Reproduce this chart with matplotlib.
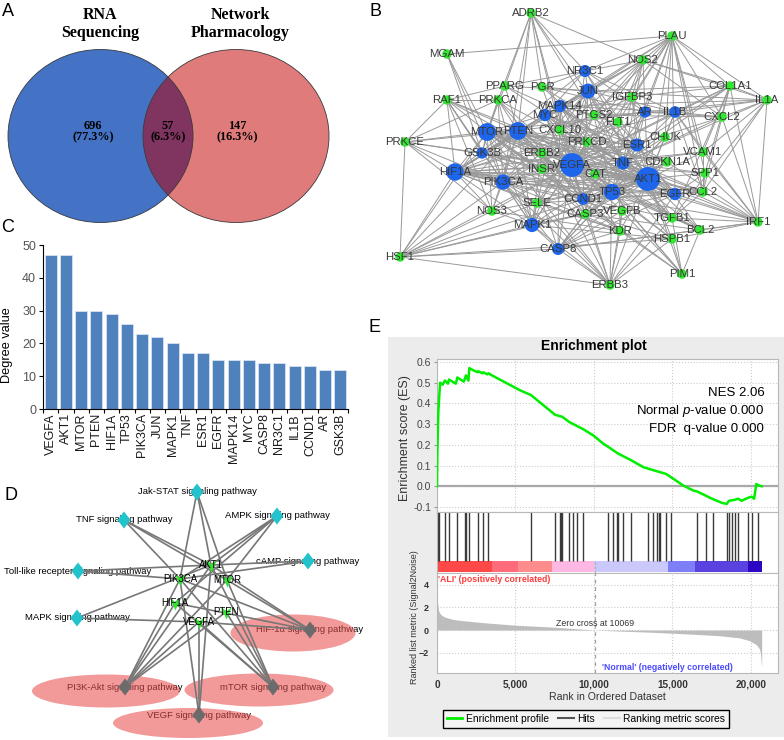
import numpy as np
import matplotlib
matplotlib.use("Agg")
import matplotlib.pyplot as plt
from matplotlib.patches import Ellipse, Rectangle
from matplotlib.collections import LineCollection
from matplotlib.lines import Line2D

plt.rcParams["font.family"] = ["Liberation Sans", "DejaVu Sans"]
plt.rcParams["mathtext.fontset"] = "custom"
plt.rcParams["mathtext.it"] = "Liberation Sans:italic"
plt.rcParams["mathtext.rm"] = "Liberation Sans"

# ---------------- A: Venn ----------------
VENN_TITLES = [("RNA", "Sequencing"), ("Network", "Pharmacology")]
VENN_COUNTS = [696, 57, 147]
VENN_PCT = [77.3, 6.3, 16.3]

# ---------------- C: hub gene degree ----------------
HUB_GENES = ["VEGFA", "AKT1", "MTOR", "PTEN", "HIF1A", "TP53", "PIK3CA", "JUN",
             "MAPK1", "TNF", "ESR1", "EGFR", "MAPK14", "MYC", "CASP8", "NR3C1",
             "IL1B", "CCND1", "AR", "GSK3B"]
HUB_DEGREE = [47, 47, 30, 30, 29, 26, 23, 22, 20, 17, 17, 15, 15, 15, 14, 14, 13, 13, 12, 12]

# ---------------- B: PPI network ----------------
OTHER_GENES = ["ADRB2", "PLAU", "MGAM", "NOS2", "COL1A1", "PPARG", "PGR", "RAF1",
               "PRKCA", "IGFBP3", "IL1A", "PTGS2", "FLT1", "CXCL2", "CXCL10", "CHUK",
               "PRKCE", "PRKCD", "ERBB2", "VCAM1", "CDKN1A", "INSR", "CAT", "SPP1",
               "CCL2", "SELE", "NOS3", "CASP3", "VEGFB", "TGFB1", "IRF1", "KDR",
               "BCL2", "HSPB1", "HSF1", "PIM1", "ERBB3"]
EDGES_B = {
    "VEGFA": "AKT1 MTOR PTEN HIF1A TP53 PIK3CA JUN MAPK1 TNF ESR1 EGFR MAPK14 MYC CASP8 NR3C1 "
             "IL1B CCND1 AR GSK3B KDR VEGFB FLT1 NOS3 NOS2 PTGS2 CXCL10 CCL2 SPP1 VCAM1 SELE "
             "TGFB1 BCL2 ERBB2 INSR IGFBP3 PLAU COL1A1 CXCL2 HSPB1 PRKCA PRKCD CASP3 CAT HSF1 "
             "ADRB2 IRF1 ERBB3",
    "AKT1": "MTOR PTEN HIF1A TP53 PIK3CA JUN MAPK1 TNF ESR1 EGFR MAPK14 MYC CASP8 NR3C1 IL1B "
            "CCND1 AR GSK3B RAF1 PRKCA PRKCE PRKCD CHUK CDKN1A BCL2 CASP3 NOS3 INSR ERBB2 ERBB3 "
            "IGFBP3 PPARG PGR HSPB1 HSF1 PIM1 TGFB1 CAT SELE KDR ADRB2 IRF1 CCL2 VCAM1 SPP1 PLAU",
    "MTOR": "PTEN HIF1A TP53 PIK3CA MAPK1 EGFR MYC CCND1 GSK3B RAF1 PRKCA PRKCE PRKCD INSR ERBB2 "
            "ERBB3 CDKN1A BCL2 CASP3 HSF1 PIM1 PPARG KDR NOS3 TNF ESR1 AR MGAM",
    "PTEN": "HIF1A TP53 PIK3CA MAPK1 EGFR MYC CCND1 GSK3B CASP3 CASP8 BCL2 CDKN1A ERBB2 INSR "
            "PRKCA PRKCE RAF1 JUN TNF ESR1 AR HSF1 ADRB2 PPARG NOS3 KDR",
    "HIF1A": "TP53 PIK3CA JUN MAPK1 TNF EGFR MYC IL1B NOS2 NOS3 PTGS2 KDR FLT1 VEGFB CAT SELE "
             "CCL2 HSF1 PRKCE RAF1 TGFB1 ESR1 NR3C1 IRF1 PLAU",
    "TP53": "PIK3CA JUN MAPK1 MYC CASP8 CCND1 CDKN1A BCL2 CASP3 ESR1 EGFR MAPK14 GSK3B HSPB1 "
            "PIM1 ERBB3 IGFBP3 CHUK AR",
    "PIK3CA": "JUN MAPK1 EGFR ERBB2 ERBB3 INSR KDR FLT1 RAF1 PRKCA PRKCE NOS3 SELE HSF1 CASP8 MGAM ADRB2",
    "JUN": "MAPK1 TNF MAPK14 MYC CCND1 ESR1 NR3C1 IL1B PTGS2 CXCL10 NOS2 COL1A1 IL1A PLAU PGR PPARG",
    "MAPK1": "TNF MAPK14 EGFR CASP8 RAF1 PRKCA PRKCD ERBB2 SELE NOS3 CASP3 HSPB1 ERBB3 HSF1",
    "TNF": "IL1B CASP8 CCL2 VCAM1 SELE IL1A CXCL2 CXCL10 CHUK NOS2 PTGS2 TGFB1 IRF1 PLAU SPP1 COL1A1",
    "ESR1": "EGFR MYC CCND1 AR PGR NR3C1 IGFBP3 ERBB2 PPARG COL1A1 CDKN1A BCL2",
    "EGFR": "ERBB2 ERBB3 MAPK14 CCND1 CASP8 PRKCD IRF1 SPP1 CCL2 PLAU",
    "MAPK14": "IL1B CASP8 HSPB1 PTGS2 NOS2 CXCL10 CHUK TGFB1 IL1A",
    "MYC": "CCND1 CDKN1A BCL2 GSK3B CASP3 PIM1 NR3C1 IGFBP3",
    "CASP8": "CASP3 BCL2 IRF1 ERBB3 HSF1 CHUK VEGFB KDR",
    "NR3C1": "AR PGR PPARG IL1B NOS2 PLAU ADRB2",
    "IL1B": "IL1A CXCL2 CCL2 VCAM1 PTGS2 IRF1 COL1A1 CHUK",
    "CCND1": "CDKN1A GSK3B AR PGR ERBB2 PRKCA",
    "AR": "PGR IGFBP3 NOS2 PLAU CXCL2 IL1A",
    "GSK3B": "PRKCA PRKCE RAF1 INSR MGAM",
    "PLAU": "NOS2 COL1A1 IL1A CXCL2 IGFBP3 PTGS2 FLT1 CHUK VCAM1 SPP1 CCL2 MGAM",
    "ADRB2": "PPARG PGR NOS2 PTGS2 CXCL10 PRKCA",
    "IRF1": "CXCL2 CCL2 VCAM1 SPP1 COL1A1 IL1A BCL2 TGFB1 HSPB1 CDKN1A",
    "HSF1": "NOS3 SELE CASP3 HSPB1 PRKCE ERBB3",
    "ERBB3": "KDR CASP3 VEGFB HSPB1 TGFB1 SELE ERBB2",
    "PIM1": "HSPB1 BCL2 TGFB1 KDR VEGFB",
    "PRKCE": "RAF1 PRKCA NOS3",
    "RAF1": "PRKCA PPARG ERBB2 NOS3",
    "NOS2": "PTGS2 IGFBP3 COL1A1 IL1A CXCL2 CXCL10 CAT",
    "COL1A1": "IL1A CXCL2 TGFB1 SPP1 VCAM1 IGFBP3",
    "IL1A": "CXCL2 CCL2 VCAM1 TGFB1",
    "CCL2": "CXCL2 CXCL10 VCAM1 SELE SPP1 TGFB1",
    "KDR": "FLT1 VEGFB NOS3 SELE",
    "CASP3": "BCL2 HSPB1 CAT CDKN1A",
    "PTGS2": "CXCL10 CXCL2 IGFBP3 SELE",
}

# ---------------- D: gene-pathway network ----------------
PATHWAYS = ["Jak-STAT signaling pathway", "TNF signaling pathway", "AMPK signaling pathway",
            "cAMP signaling pathway", "Toll-like recepter signaling pathway",
            "MAPK signaling pathway", "HIF-1\u03b1 signaling pathway",
            "PI3K-Akt signaling pathway", "mTOR signaling pathway", "VEGF signaling pathway"]
KEY_PATHWAYS = ["HIF-1\u03b1 signaling pathway", "PI3K-Akt signaling pathway",
                "mTOR signaling pathway", "VEGF signaling pathway"]
CORE_GENES = ["AKT1", "PIK3CA", "MTOR", "HIF1A", "PTEN", "VEGFA"]
PATHWAY_GENES = {
    "Jak-STAT signaling pathway": ["PIK3CA", "AKT1", "MTOR"],
    "TNF signaling pathway": ["PIK3CA", "AKT1", "MTOR"],
    "AMPK signaling pathway": ["PIK3CA", "AKT1", "MTOR", "HIF1A"],
    "cAMP signaling pathway": ["PIK3CA", "AKT1"],
    "Toll-like recepter signaling pathway": ["PIK3CA", "AKT1"],
    "MAPK signaling pathway": ["AKT1", "VEGFA"],
    "HIF-1\u03b1 signaling pathway": ["PIK3CA", "AKT1", "MTOR", "HIF1A", "VEGFA"],
    "PI3K-Akt signaling pathway": ["PIK3CA", "AKT1", "MTOR", "PTEN", "VEGFA", "HIF1A"],
    "mTOR signaling pathway": ["PIK3CA", "AKT1", "MTOR", "PTEN", "HIF1A", "VEGFA"],
    "VEGF signaling pathway": ["PIK3CA", "AKT1", "VEGFA"],
}

# ---------------- E: GSEA ----------------
N_GENES = 20680
ZERO_CROSS = 10069
NES, P_VAL, Q_VAL = 2.06, 0.000, 0.000
ES_RANK = [0, 21, 85, 149, 200, 360, 510, 700, 764, 1200, 1295, 1700, 1783, 1847, 2000, 2059,
           2300, 2600, 2632, 2900, 2951, 3200, 3269, 3500, 5290, 5987, 7515, 7983, 8428, 8938,
           9320, 9960, 10600, 10912, 11485, 11867, 12335, 13150, 13460, 14118, 14585, 14882,
           15700, 16340, 16538, 16980, 17400, 18150, 18449, 18600, 18979, 19191, 19400, 19828,
           20041, 20200, 20340, 20466, 20680]
ES_VALUE = [0.0, 0.16, 0.36, 0.44, 0.50, 0.49, 0.51, 0.495, 0.515, 0.495, 0.525, 0.505, 0.52,
            0.535, 0.51, 0.57, 0.56, 0.55, 0.555, 0.545, 0.55, 0.54, 0.545, 0.535, 0.463, 0.44,
            0.345, 0.335, 0.31, 0.29, 0.275, 0.245, 0.205, 0.19, 0.16, 0.145, 0.127, 0.092,
            0.085, 0.07, 0.06, 0.045, 0.003, -0.021, -0.024, -0.04, -0.056, -0.08, -0.085,
            -0.07, -0.065, -0.06, -0.07, -0.055, -0.05, -0.06, 0.011, 0.005, 0.0]
HIT_RANK = [21, 85, 149, 510, 764, 1295, 1783, 1847, 2059, 2632, 2951, 3269, 5987, 7515, 7834,
            7898, 7983, 8428, 8683, 8938, 9320, 10912, 11188, 11485, 11549, 11867, 12335, 13460,
            13778, 14033, 14118, 14203, 14585, 14882, 16538, 17132, 17599, 18449, 18597, 18767,
            18979, 19191, 19828, 20041, 20466]
METRIC_RANK = [0, 50, 106, 200, 318, 450, 637, 850, 1060, 1500, 2100, 3160, 5000, 7400, 10069,
               11650, 13770, 15900, 18000, 19300, 19900, 20340, 20550, 20620, 20650, 20680]
METRIC_VALUE = [3.0, 2.3, 1.7, 1.45, 1.29, 1.18, 1.09, 1.0, 0.94, 0.85, 0.77, 0.63, 0.43, 0.26,
                0.0, -0.09, -0.2, -0.34, -0.5, -0.7, -0.94, -1.29, -1.7, -2.3, -2.9, -3.2]
BAND_EDGES = [0, 3480, 5180, 7300, 10020, 14730, 16430, 19830, 20680]
BAND_COLORS = ["#ff4848", "#ff6b7b", "#ff8c8c", "#ffb8e4", "#cbc8fb", "#7e7ef7", "#5a42e0", "#2c06c4"]

# ---------------- layout (pixel positions) ----------------
POS_B = {
    "ADRB2": (531, 13), "PLAU": (672, 36), "MGAM": (447, 54), "NOS2": (643, 60),
    "NR3C1": (585, 71), "COL1A1": (730, 86), "PPARG": (505, 86), "PGR": (542, 87),
    "JUN": (588, 91), "RAF1": (447, 100), "PRKCA": (498, 100), "IGFBP3": (632, 97),
    "IL1A": (767, 100), "MAPK14": (560, 106), "AR": (645, 112), "IL1B": (675, 112),
    "MYC": (545, 115), "PTGS2": (594, 115), "FLT1": (618, 122), "CXCL2": (722, 117),
    "MTOR": (487, 132), "PTEN": (518, 131), "CXCL10": (560, 130), "CHUK": (665, 137),
    "PRKCE": (405, 142), "PRKCD": (587, 142), "ESR1": (637, 145), "GSK3B": (482, 153),
    "ERBB2": (542, 153), "VCAM1": (703, 152), "HIF1A": (455, 172), "VEGFA": (572, 165),
    "TNF": (623, 163), "CDKN1A": (667, 162), "INSR": (542, 169), "CAT": (595, 174),
    "SPP1": (705, 173), "PIK3CA": (503, 182), "AKT1": (648, 179), "TP53": (612, 192),
    "EGFR": (675, 194), "CCL2": (703, 192), "CCND1": (583, 199), "SELE": (537, 203),
    "NOS3": (492, 211), "CASP3": (585, 214), "VEGFB": (622, 211), "TGFB1": (672, 218),
    "IRF1": (758, 222), "MAPK1": (532, 225), "KDR": (620, 231), "BCL2": (700, 230),
    "HSPB1": (672, 239), "CASP8": (558, 249), "HSF1": (400, 257), "PIM1": (682, 274),
    "ERBB3": (610, 285),
}
POS_D = {
    "Jak-STAT signaling pathway": (197, 492), "TNF signaling pathway": (124, 520),
    "AMPK signaling pathway": (277, 516), "cAMP signaling pathway": (308, 561),
    "Toll-like recepter signaling pathway": (78, 571), "MAPK signaling pathway": (77, 618),
    "HIF-1\u03b1 signaling pathway": (310, 630), "PI3K-Akt signaling pathway": (125, 687),
    "mTOR signaling pathway": (273, 687), "VEGF signaling pathway": (199, 715),
    "AKT1": (211, 565), "PIK3CA": (180, 579), "MTOR": (227, 580), "HIF1A": (175, 603),
    "PTEN": (226, 612), "VEGFA": (199, 622),
}
ELLIPSE_D = {
    "HIF-1\u03b1 signaling pathway": ((293, 633), 125, 37),
    "PI3K-Akt signaling pathway": ((106, 691), 148, 33),
    "mTOR signaling pathway": ((259, 690), 149, 33),
    "VEGF signaling pathway": ((188, 723), 150, 30),
}

fig = plt.figure(figsize=(7.84, 7.40), dpi=100)
cv = fig.add_axes([0, 0, 1, 1])
cv.set_xlim(0, 784)
cv.set_ylim(740, 0)
cv.axis("off")

for lab, (x, y) in {"A": (8, 12), "B": (376, 11), "C": (8, 228), "D": (11, 495), "E": (375, 327)}.items():
    cv.text(x, y, lab, fontsize=13, ha="center", va="center")

# ---- A: Venn
blue = Ellipse((100.5, 136), 185, 173, fc="#4472c4", ec="none", zorder=1)
red = Ellipse((236, 136), 186, 173, fc="#e07b7b", ec="none", zorder=1)
cv.add_patch(blue)
cv.add_patch(red)
ov = Ellipse((236, 136), 186, 173, fc="#7f3560", ec="none", zorder=2)
cv.add_patch(ov)
ov.set_clip_path(blue)
for e in (blue, red):
    cv.add_patch(Ellipse(e.center, e.width, e.height, fill=False, ec="#3a3a3a", lw=0.6, zorder=3))
for (l1, l2), x in zip(VENN_TITLES, [100, 240]):
    cv.text(x, 15, l1, fontsize=11.5, fontweight="bold", family="Liberation Serif", ha="center", va="center")
    cv.text(x, 33, l2, fontsize=11.5, fontweight="bold", family="Liberation Serif", ha="center", va="center")
for n, p, x in zip(VENN_COUNTS, VENN_PCT, [93, 168, 237]):
    cv.text(x, 126, str(n), fontsize=8.8, fontweight="bold", family="Liberation Serif", ha="center", va="center", zorder=4)
    cv.text(x, 137.5, f"({p}%)", fontsize=8.8, fontweight="bold", family="Liberation Serif", ha="center", va="center", zorder=4)

# ---- B: PPI network
segs = set()
for a, nbrs in EDGES_B.items():
    for b in nbrs.split():
        if b in POS_B and a in POS_B and a != b:
            segs.add(tuple(sorted((a, b))))
cv.add_collection(LineCollection([[POS_B[a], POS_B[b]] for a, b in sorted(segs)],
                                 colors="#999999", linewidths=0.7, zorder=1))
deg = dict(zip(HUB_GENES, HUB_DEGREE))
names = OTHER_GENES + HUB_GENES
xs = [POS_B[g][0] for g in names]
ys = [POS_B[g][1] for g in names]
diam = [7 + 0.36 * deg[g] if g in deg else 9.5 for g in names]
cols = ["#1d66ec" if g in deg else "#33e633" for g in names]
cv.scatter(xs, ys, s=[(d * 0.72) ** 2 for d in diam], c=cols, linewidths=0, zorder=2)
for g in names:
    cv.text(POS_B[g][0], POS_B[g][1], g, fontsize=8.2, color="#383838", ha="center", va="center", zorder=3)

# ---- C: degree bar chart
axC = fig.add_axes([43 / 784, 1 - 409 / 740, 305 / 784, 164 / 740])
axC.bar(range(len(HUB_GENES)), HUB_DEGREE, width=0.8, color="#4f81bd", edgecolor="#dfe8f3", lw=0.5)
axC.set_xlim(-0.5, len(HUB_GENES) - 0.5)
axC.set_ylim(0, 50)
axC.set_yticks(range(0, 51, 10))
axC.set_xticks(range(len(HUB_GENES)))
axC.set_xticklabels(HUB_GENES, rotation=90, fontsize=9, color="#1a1a1a")
axC.set_xticks(np.arange(-0.5, len(HUB_GENES), 1), minor=True)
axC.tick_params(axis="x", which="major", length=0, pad=3)
axC.tick_params(axis="x", which="minor", length=3, width=0.8)
axC.tick_params(axis="y", length=3, width=0.8, labelsize=9, labelcolor="#555555", pad=2)
for s in ("top", "right"):
    axC.spines[s].set_visible(False)
cv.text(7, 345, "Degree value", rotation=90, fontsize=9.2, ha="center", va="center")

# ---- D: pathway network
vmark = [(-1, 1), (0, -1.3), (1, 1), (0, 0.25), (-1, 1)]
dmark = [(0, 1.3), (1, 0), (0, -1.3), (-1, 0), (0, 1.3)]
for pw in PATHWAYS:
    x, y = POS_D[pw]
    cv.text(x, y, pw, fontsize=6.8, ha="center", va="center", zorder=2)
for pw in KEY_PATHWAYS:
    c, w, h = ELLIPSE_D[pw]
    cv.add_patch(Ellipse(c, w, h, fc="#e95050", alpha=0.58, ec="none", zorder=3))
dsegs = [[POS_D[pw], POS_D[g]] for pw in PATHWAYS for g in PATHWAY_GENES[pw]]
cv.add_collection(LineCollection(dsegs, colors="#777777", linewidths=1.2, zorder=4))
cv.scatter([POS_D[p][0] for p in PATHWAYS], [POS_D[p][1] for p in PATHWAYS], marker=dmark,
           s=(17 * 0.72) ** 2, c=["#6b6b6b" if p in KEY_PATHWAYS else "#22c3cc" for p in PATHWAYS],
           linewidths=0, zorder=5)
cv.scatter([POS_D[g][0] for g in CORE_GENES], [POS_D[g][1] for g in CORE_GENES], marker=vmark,
           s=(14 * 0.72) ** 2, c="#2ee62e", linewidths=0, zorder=5)
for g in CORE_GENES:
    cv.text(POS_D[g][0], POS_D[g][1], g, fontsize=6.9, ha="center", va="center", zorder=6)

# ---- E: GSEA enrichment plot
cv.add_patch(Rectangle((388, 337), 396, 400, fc="#ececec", ec="none", zorder=0))
cv.text(594, 346, "Enrichment plot", fontsize=10, fontweight="bold", ha="center", va="center")
cv.text(405, 438, "Enrichment score (ES)", rotation=90, fontsize=9, color="#333333", ha="center", va="center")
cv.text(415, 617, "Ranked list metric (Signal2Noise)", rotation=90, fontsize=6.5, color="#333333",
        ha="center", va="center")
cv.text(607, 697, "Rank in Ordered Dataset", fontsize=7.6, color="#333333", ha="center", va="center")

XMAX = 21720
XT = [0, 5000, 10000, 15000, 20000]
axE = fig.add_axes([437 / 784, 1 - 512 / 740, 341 / 784, 153 / 740])
axE.plot(ES_RANK, ES_VALUE, color="#00ee00", lw=1.8, zorder=3)
axE.axhline(0, color="#a8a8a8", lw=1.6, zorder=2)
axE.set_xlim(0, XMAX)
axE.set_ylim(-0.124, 0.614)
yt = np.round(np.arange(-0.1, 0.65, 0.1), 1)
axE.set_yticks(yt)
axE.set_yticklabels([f"{v:.1f}" for v in yt])
axE.set_xticks(XT)
axE.set_xticklabels([])
axE.grid(True, ls=":", color="#cccccc", lw=0.8)
axE.tick_params(length=2, color="#999999", labelsize=7.5, labelcolor="#444444", pad=2)
axE.text(0.96, 0.775, f"NES {NES:.2f}", transform=axE.transAxes, ha="right", va="center", fontsize=9.5)
axE.text(0.96, 0.66, f"Normal $\\it{{p}}$-value {P_VAL:.3f}", transform=axE.transAxes,
         ha="right", va="center", fontsize=9.5)
axE.text(0.96, 0.54, f"FDR  q-value {Q_VAL:.3f}", transform=axE.transAxes, ha="right", va="center", fontsize=9.5)

axH = fig.add_axes([437 / 784, 1 - 573 / 740, 341 / 784, 61 / 740])
axH.vlines(HIT_RANK, 0.2, 1, color="#3a3a3a", lw=1.0)
for r0, r1, c in zip(BAND_EDGES[:-1], BAND_EDGES[1:], BAND_COLORS):
    axH.axvspan(r0, r1, ymin=0.015, ymax=0.197, color=c, lw=0)
axH.axvline(ZERO_CROSS, ymin=0, ymax=0.197, ls=(0, (2, 2)), color="#aaaaaa", lw=0.8)
axH.set_xlim(0, XMAX)
axH.set_ylim(0, 1)
axH.set_xticks([])
axH.set_yticks([])

axR = fig.add_axes([437 / 784, 1 - 673 / 740, 341 / 784, 100 / 740])
axR.fill_between(METRIC_RANK, METRIC_VALUE, 0, color="#bdbdbd", lw=0, zorder=2)
axR.axvline(ZERO_CROSS, ls=(0, (3, 3)), color="#a0a0a0", lw=0.9, zorder=3)
axR.set_xlim(0, XMAX)
axR.set_ylim(-3.8, 5.05)
axR.set_yticks([-2, 0, 2, 4])
axR.set_xticks(XT)
axR.set_xticklabels([f"{v:,}" for v in XT])
axR.grid(True, ls=":", color="#cccccc", lw=0.8)
axR.tick_params(axis="y", length=0, labelsize=6.5, pad=6)
axR.tick_params(axis="x", length=0, labelsize=7.2, pad=5)
for lab in axR.get_xticklabels() + axR.get_yticklabels():
    lab.set_fontweight("bold")
    lab.set_color("#333333")
axR.text(60, 4.5, "'ALI' (positively correlated)", color="#ff3b3b", fontsize=6.3, fontweight="bold",
         ha="left", va="center")
axR.text(ZERO_CROSS, 0.62, f"Zero cross at {ZERO_CROSS}", fontsize=6.3, ha="center", va="center", color="#333333")
axR.text(14650, -3.3, "'Normal' (negatively correlated)", color="#4a4aff", fontsize=6.3, fontweight="bold",
         ha="center", va="center")

for ax in (axE, axH, axR):
    for s in ax.spines.values():
        s.set_color("#b8b8b8")

handles = [Line2D([], [], color="#00ee00", lw=2), Line2D([], [], color="#555555", lw=1.5),
           Line2D([], [], color="#dddddd", lw=1.5)]
fig.legend(handles, ["Enrichment profile", "Hits", "Ranking metric scores"], loc="center",
           bbox_to_anchor=(586 / 784, 1 - 719 / 740), ncol=3, fontsize=7.4, frameon=True,
           fancybox=False, edgecolor="black", facecolor="#f4f4f4", framealpha=1,
           handlelength=1.5, handletextpad=0.35, columnspacing=0.9, borderpad=0.35)

fig.savefig("out.png", dpi=100)
